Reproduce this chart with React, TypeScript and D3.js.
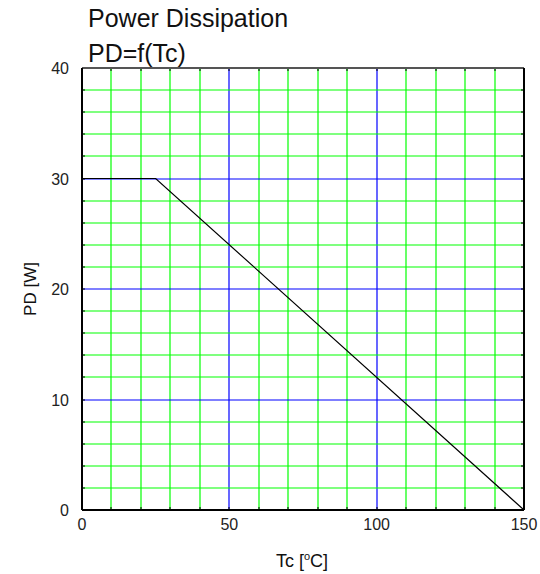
import React from "react";
import * as d3 from "d3";

const xTicks = [0, 50, 100, 150];
const yTicks = [0, 10, 20, 30, 40];
const xMinor = d3.range(0, 151, 10);
const yMinor = d3.range(0, 41, 2);
const curveTc = [0, 25, 150];
const curvePD = [30, 30, 0];

export default function App() {
  const W = 540, H = 574;
  const left = 82, right = 524, top = 68, bottom = 510;
  const x = d3.scaleLinear().domain([0, 150]).range([left, right]);
  const y = d3.scaleLinear().domain([0, 40]).range([bottom, top]);
  const px = (v: number) => Math.round(v);
  const line = d3.line<number>().x((_, i) => x(curveTc[i])).y((d) => y(d));
  const font = "Arial, 'Liberation Sans', sans-serif";
  return (
    <svg width={W} height={H} style={{ position: "absolute", left: 0, top: 0 }} fontFamily={font}>
      <rect width={W} height={H} fill="#ffffff" />
      {xMinor.map((v) => (
        <line key={"gx" + v} x1={px(x(v))} x2={px(x(v))} y1={top} y2={bottom}
          stroke={v % 50 === 0 ? "#0000ff" : "#00ff00"} strokeWidth={1.2} />
      ))}
      {yMinor.map((v) => (
        <line key={"gy" + v} x1={left} x2={right} y1={px(y(v))} y2={px(y(v))}
          stroke={v % 10 === 0 ? "#0000ff" : "#00ff00"} strokeWidth={1.2} />
      ))}
      {xMinor.map((v) => (
        <g key={"tx" + v}>
          <line x1={px(x(v))} x2={px(x(v))} y1={bottom} y2={bottom - 3} stroke="#000000" />
          <line x1={px(x(v))} x2={px(x(v))} y1={top} y2={top + 3} stroke="#000000" />
        </g>
      ))}
      {yMinor.map((v) => (
        <g key={"ty" + v}>
          <line x1={left} x2={left + 3} y1={px(y(v))} y2={px(y(v))} stroke="#000000" />
          <line x1={right} x2={right - 3} y1={px(y(v))} y2={px(y(v))} stroke="#000000" />
        </g>
      ))}
      <path d={line(curvePD) || ""} fill="none" stroke="#000000" strokeWidth={1.2} />
      <line x1={left} x2={right} y1={top} y2={top} stroke="#555555" strokeWidth={2} />
      <line x1={left} x2={right} y1={bottom} y2={bottom} stroke="#000000" strokeWidth={2} />
      <line x1={left} x2={left} y1={top} y2={bottom} stroke="#000000" strokeWidth={2} />
      <line x1={right} x2={right} y1={top} y2={bottom} stroke="#000000" strokeWidth={2} />
      {yTicks.map((v) => (
        <text key={"yl" + v} x={69} y={y(v) + 6} textAnchor="end" fontSize={16} fill="#222222">{v}</text>
      ))}
      {xTicks.map((v) => (
        <text key={"xl" + v} x={x(v)} y={bottom + 20} textAnchor="middle" fontSize={16} fill="#222222">{v}</text>
      ))}
      <text x={88} y={27} fontSize={25} fill="#111111">Power Dissipation</text>
      <text x={88} y={62} fontSize={25} fill="#111111">PD=f(Tc)</text>
      <text transform={`translate(36,${(top + bottom) / 2}) rotate(-90)`} textAnchor="middle" fontSize={17} fill="#111111">PD [W]</text>
      <text x={302} y={567} textAnchor="middle" fontSize={18} fill="#111111">
        Tc [<tspan dy={-7} fontSize={11}>o</tspan><tspan dy={7}>C]</tspan>
      </text>
    </svg>
  );
}
